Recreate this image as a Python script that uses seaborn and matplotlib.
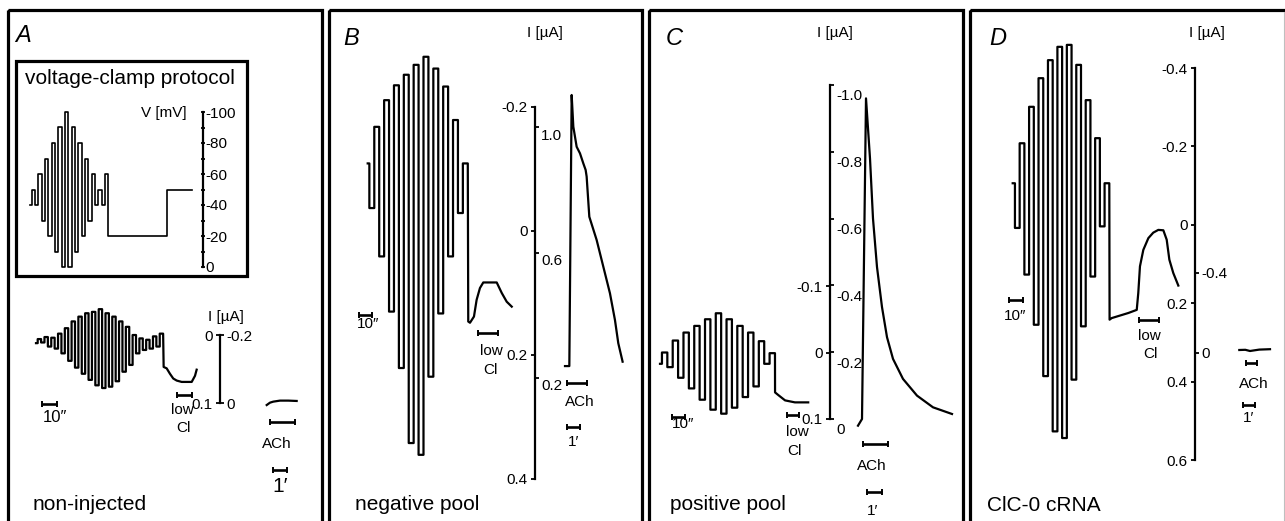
#!/usr/bin/env python
# -*- coding: utf-8 -*-

import numpy as np
import pandas as pd
import matplotlib
matplotlib.use('Agg')
import matplotlib.pyplot as plt
import matplotlib.transforms as mtransforms
from matplotlib.patches import Rectangle
import seaborn as sns

plt.rcParams['font.family'] = ['Liberation Sans', 'DejaVu Sans']

## ============================ values

# A inset: voltage-clamp protocol [mV], times [s]
prot_hold, prot_hold_dur, prot_half = -40, 1., 2.
prot_tops = [-50, -60, -70, -80, -90, -100, -90, -80, -70, -60, -50, -60]
prot_bottoms = [-40, -30, -20, -10, 0, 0, -10, -20, -30, -40, -40]
prot_steps = [-20, -50]
prot_steps_dur = [35., 15.]

# A: non-injected [uA]
a_start, a_start_dur, a_half = 0.012, 1.13, 2.26
a_tops = [0.006, 0.003, 0.004, -0.002, -0.010, -0.020, -0.027, -0.032, -0.034, -0.038,
          -0.032, -0.027, -0.020, -0.012, 0.000, 0.005, 0.007, 0.002, -0.002]
a_bottoms = [0.011, 0.017, 0.020, 0.027, 0.038, 0.048, 0.057, 0.066, 0.074, 0.078,
             0.076, 0.068, 0.054, 0.044, 0.027, 0.022, 0.020, 0.017]
a_tail_t = [85.1, 87.1, 89.3, 91.5, 93.8, 97.1, 103.8, 106.0, 107.1]
a_tail_i = [0.047, 0.049, 0.057, 0.064, 0.067, 0.069, 0.069, 0.060, 0.051]
a_ach_t = [0., 14.1, 28.3, 57.0, 92.6, 128.6]
a_ach_i = [0.006, -0.001, -0.004, -0.007, -0.007, -0.006]
a_lowcl = (94., 104.)
a_ach = (14., 121.)
a_sec10 = 4.
a_min1 = 27.

# B: negative pool
b_start, b_start_dur, b_half = -0.109, 1.25, 3.7
b_tops = [-0.168, -0.211, -0.235, -0.252, -0.268, -0.281, -0.262, -0.233, -0.179, -0.109]
b_bottoms = [-0.037, 0.041, 0.130, 0.221, 0.342, 0.361, 0.235, 0.133, 0.041, -0.029]
b_tail_t = [75.6, 76.9, 79.9, 81.9, 84.4, 86.9, 97.0, 100.8, 104.5, 108.3]
b_tail_i = [0.146, 0.148, 0.138, 0.111, 0.092, 0.083, 0.083, 0.100, 0.114, 0.122]
b_ach_t = [0., 19.5, 30., 37.5, 52.5, 67.5, 82.5, 93., 97.5, 109.5, 142.5, 172.5, 202.5, 225., 240., 259.5]
b_ach_i = [0.238, 0.238, 1.102, 1.001, 0.937, 0.916, 0.884, 0.863, 0.842, 0.714, 0.640, 0.555,
           0.470, 0.385, 0.311, 0.252]
b_lowcl = (82.9, 98.0)
b_ach = (9., 99.)
b_sec10 = -6.5
b_min1 = 9.

# C: positive pool
c_start, c_start_dur, c_half = 0.017, 1.5, 4.14
c_tops = [0.000, -0.018, -0.030, -0.040, -0.050, -0.059, -0.050, -0.040, -0.030, -0.017, 0.001]
c_bottoms = [0.022, 0.038, 0.054, 0.071, 0.086, 0.092, 0.083, 0.067, 0.051, 0.017]
c_tail_t = [88.5, 91., 93.6, 96.2, 103.8, 114.]
c_tail_i = [0.060, 0.064, 0.068, 0.072, 0.075, 0.075]
c_ach_t = [0., 16., 32., 48., 60., 76., 96., 116., 140., 180., 236., 300., 376.]
c_ach_i = [0.02, 0.0, -0.96, -0.78, -0.60, -0.455, -0.335, -0.245, -0.18, -0.12, -0.07, -0.035, -0.015]
c_lowcl = (97.7, 106.9)
c_ach = (20., 120.)
c_sec10 = 9.2
c_min1 = 36.

# D: ClC-0 cRNA
d_start, d_start_dur, d_half = -0.106, 1.6, 3.37
d_tops = [-0.208, -0.301, -0.374, -0.420, -0.454, -0.459, -0.408, -0.318, -0.221, -0.106]
d_bottoms = [0.008, 0.127, 0.255, 0.386, 0.527, 0.544, 0.395, 0.259, 0.132, 0.004]
d_tail_t = [69.2, 70.7, 82.6, 88.6, 89.7, 90.9, 93.3, 96.9, 100.4, 104., 107.6, 110., 111.9, 114.7, 118.3]
d_tail_i = [0.242, 0.238, 0.225, 0.217, 0.174, 0.106, 0.064, 0.034, 0.020, 0.013, 0.014, 0.038,
            0.089, 0.123, 0.155]
d_ach_t = [0., 30., 53.5, 100., 153.5]
d_ach_i = [-0.015, -0.016, -0.010, -0.017, -0.019]
d_lowcl = (90.2, 104.5)
d_ach = (33.5, 88.5)
d_sec10 = -2.6
d_min1 = 18.5

# scale bar ticks
v_ticks = [-100, -80, -60, -40, -20, 0]
v_minor = [-100, -90, -80, -70, -60, -50, -40, -30, -20, -10, 0]
a_left_ticks, a_right_ticks = [0, 0.1], [-0.2, 0]
b_left_ticks, b_right_ticks = [-0.2, 0, 0.2, 0.4], [1.0, 0.6, 0.2]
c_left_ticks, c_right_ticks = [-0.1, 0, 0.1], [-1.0, -0.8, -0.6, -0.4, -0.2, 0]
d_left_ticks, d_right_ticks = [-0.4, -0.2, 0, 0.2, 0.4, 0.6], [-0.4, 0]

## ============================ helpers

W, H = 1285, 521
fig = plt.figure(figsize=(W / 100., H / 100.), dpi=100)
bg = fig.add_axes([0, 0, 1, 1])
bg.set_xlim(0, W)
bg.set_ylim(H, 0)
bg.axis('off')

def lin(p, ref):
	(p1, v1), (p2, v2) = ref
	return v1 + (p - p1) * (v2 - v1) / (p2 - p1)

def place(ax, box, xref, yref):
	l, t, r, b = box
	ax.set_position([l / W, 1 - b / H, (r - l) / W, (b - t) / H])
	ax.set_xlim(lin(l, xref), lin(r, xref))
	ax.set_ylim(lin(b, yref), lin(t, yref))

def alternate(tops, bottoms):
	first, second = (tops, bottoms) if len(tops) > len(bottoms) else (bottoms, tops)
	out = []
	for i, v in enumerate(first):
		out.append(v)
		if i < len(second):
			out.append(second[i])
	return out

def step_frame(levels, durations, tail_t=(), tail_i=()):
	t, y, t0 = [], [], 0.
	for lv, d in zip(levels, durations):
		t += [t0, t0 + d]
		y += [lv, lv]
		t0 += d
	return pd.DataFrame({'t': t + list(tail_t), 'I': y + list(tail_i)})

def pulse_frame(start, start_dur, half, tops, bottoms, tail_t, tail_i):
	levels = [start] + alternate(tops, bottoms)
	durs = [start_dur] + [half] * (len(levels) - 1)
	return step_frame(levels, durs, tail_t, tail_i)

def trace_axes(box, xref, yref, df, bars, lw=1.6):
	ax = fig.add_axes([0, 0, 1, 1])
	sns.lineplot(data=df, x='t', y='I', ax=ax, color='k', linewidth=lw,
				 estimator=None, sort=False)
	for t0, t1, y in bars:
		ax.errorbar((t0 + t1) / 2., y, xerr=(t1 - t0) / 2., fmt='none', ecolor='k',
					elinewidth=1.9, capsize=2.2, capthick=1.4)
	ax.axis('off')
	place(ax, box, xref, yref)
	return ax

def fmt_ticks(vals, f):
	return ['0' if v == 0 else f % v for v in vals]

def scale_axes(x, top, bottom, yref, lticks, llabels, rref, rticks, rlabels,
			   ldir='out', rlen=3., rshift=0.):
	ax = fig.add_axes([0, 0, 1, 1])
	place(ax, (x - 0.1, top, x + 0.1, bottom), ((0, 0), (1, 1)), yref)
	ax.patch.set_visible(False)
	for side in ['top', 'right', 'bottom']:
		ax.spines[side].set_visible(False)
	ax.spines['left'].set_linewidth(1.6)
	ax.set_xticks([])
	ax.set_yticks(lticks, labels=llabels)
	ax.tick_params(axis='y', direction=ldir, length=3., width=1.3, pad=2., labelsize=11)
	ax2 = ax.twinx()
	place(ax2, (x - 0.1, top, x + 0.1, bottom), ((0, 0), (1, 1)), rref)
	ax2.patch.set_visible(False)
	for s in ax2.spines.values():
		s.set_visible(False)
	ax2.set_yticks(rticks, labels=rlabels)
	ax2.tick_params(axis='y', direction='out', length=rlen, width=1.3, pad=1.5, labelsize=11)
	if rshift:
		off = mtransforms.ScaledTranslation(0, -rshift / 100., fig.dpi_scale_trans)
		for lab in ax2.get_yticklabels():
			lab.set_transform(lab.get_transform() + off)
	return ax, ax2

def txt(x, y, s, size=11, ha='center', **kw):
	bg.text(x, y, s, fontsize=size, ha=ha, va='baseline', color='k', **kw)

## ============================ frames

for l, r in [(8, 321.5), (329, 642), (649, 963), (970, 1290)]:
	bg.add_patch(Rectangle((l, 10), r - l, 540, fill=False, lw=2.3, ec='k'))
bg.plot([1284, 1284], [12, H], color='0.75', lw=0.8)
bg.add_patch(Rectangle((16, 61), 231, 215, fill=False, lw=2.3, ec='k'))

## ============================ A, protocol inset

prot = step_frame([prot_hold] + alternate(prot_tops, prot_bottoms) + prot_steps,
				  [prot_hold_dur] + [prot_half] * 23 + prot_steps_dur)
trace_axes((18, 63, 245, 274), ((30, 0), (196.7, 100)), ((112, -100), (267, 0)), prot, [], lw=1.2)
scale_axes(203, 112, 267, ((112, -100), (267, 0)), v_minor, [''] * len(v_minor),
		   ((112, -100), (267, 0)), v_ticks, fmt_ticks(v_ticks, '%d'), ldir='inout', rlen=0.)
txt(25, 84, 'voltage-clamp protocol', size=15, ha='left')
txt(187, 116.5, 'V [mV]', ha='right')

## ============================ A, non-injected

a_y = ((335, 0.0), (403, 0.1))
a_ry = ((335, -0.2), (403, 0.0))
a_df = pulse_frame(a_start, a_start_dur, a_half, a_tops, a_bottoms, a_tail_t, a_tail_i)
trace_axes((10, 280, 320, 521), ((36, 0), (186, 100)), a_y, a_df,
		   [(a_sec10, a_sec10 + 10., 0.1015), (a_lowcl[0], a_lowcl[1], 0.088)])
trace_axes((10, 280, 320, 521), ((266.7, 0), (290.0, 100)), a_ry,
		   pd.DataFrame({'t': a_ach_t, 'I': a_ach_i}),
		   [(a_ach[0], a_ach[1], 0.055), (a_min1, a_min1 + 60., 0.197)])
scale_axes(220, 335, 403, a_y, a_left_ticks, fmt_ticks(a_left_ticks, '%.1f'),
		   a_ry, a_right_ticks, fmt_ticks(a_right_ticks, '%.1f'))
txt(226, 321.5, 'I [µA]')
txt(43, 422.5, '10″', size=12, ha='left')
txt(182, 414, 'low')
txt(183, 432.5, 'Cl')
txt(277, 447.5, 'ACh')
txt(280, 491.5, '1′', size=15)
txt(15, 42, 'A', size=17, ha='left', style='italic')
txt(33, 510, 'non-injected', size=15, ha='left')

## ============================ B, negative pool

b_y = ((107, -0.2), (479, 0.4))
b_ry = ((127, 1.0), (378, 0.2))
b_df = pulse_frame(b_start, b_start_dur, b_half, b_tops, b_bottoms, b_tail_t, b_tail_i)
trace_axes((331, 12, 640, 521), ((367.7, 0), (500.7, 100)), b_y, b_df,
		   [(b_sec10, b_sec10 + 10., 0.135), (b_lowcl[0], b_lowcl[1], 0.165)])
trace_axes((331, 12, 640, 521), ((565, 0), (587.2, 100)), b_ry,
		   pd.DataFrame({'t': b_ach_t, 'I': b_ach_i}),
		   [(b_ach[0], b_ach[1], 0.184), (b_min1, b_min1 + 60., 0.044)])
scale_axes(535, 107, 479, b_y, b_left_ticks, fmt_ticks(b_left_ticks, '%.1f'),
		   b_ry, b_right_ticks, fmt_ticks(b_right_ticks, '%.1f'), rshift=7.)
txt(545, 37, 'I [µA]')
txt(356.5, 328.5, '10″', ha='left')
txt(491, 355, 'low')
txt(490, 373.5, 'Cl')
txt(580, 406.5, 'ACh')
txt(574, 446.5, '1′')
txt(343, 45, 'B', size=17, ha='left', style='italic')
txt(355, 510, 'negative pool', size=15, ha='left')

## ============================ C, positive pool

c_y = ((286, -0.1), (419, 0.1))
c_ry = ((85, -1.0), (419, 0.0))
c_df = pulse_frame(c_start, c_start_dur, c_half, c_tops, c_bottoms, c_tail_t, c_tail_i)
trace_axes((651, 12, 961, 521), ((660, 0), (790, 100)), c_y, c_df,
		   [(c_sec10, c_sec10 + 10., 0.097), (c_lowcl[0], c_lowcl[1], 0.094)])
trace_axes((651, 12, 961, 521), ((858, 0), (883, 100)), c_ry,
		   pd.DataFrame({'t': c_ach_t, 'I': c_ach_i}),
		   [(c_ach[0], c_ach[1], 0.075), (c_min1, c_min1 + 60., 0.219)])
scale_axes(830, 85, 419, c_y, c_left_ticks, fmt_ticks(c_left_ticks, '%.1f'),
		   c_ry, c_right_ticks, fmt_ticks(c_right_ticks, '%.1f'), rshift=10.)
txt(835, 37, 'I [µA]')
txt(672, 428.5, '10″', ha='left')
txt(797, 436.5, 'low')
txt(794, 455, 'Cl')
txt(872, 469.5, 'ACh')
txt(873, 515, '1′')
txt(666, 45, 'C', size=17, ha='left', style='italic')
txt(670, 510, 'positive pool', size=15, ha='left')

## ============================ D, ClC-0 cRNA

d_y = ((68, -0.4), (460, 0.6))
d_ry = ((273, -0.4), (353, 0.0))
d_df = pulse_frame(d_start, d_start_dur, d_half, d_tops, d_bottoms, d_tail_t, d_tail_i)
trace_axes((972, 12, 1279, 521), ((1012.7, 0), (1152.7, 100)), d_y, d_df,
		   [(d_sec10, d_sec10 + 10., 0.191), (d_lowcl[0], d_lowcl[1], 0.242)])
trace_axes((972, 12, 1279, 521), ((1239.3, 0), (1259.3, 100)), d_ry,
		   pd.DataFrame({'t': d_ach_t, 'I': d_ach_i}),
		   [(d_ach[0], d_ach[1], 0.05), (d_min1, d_min1 + 60., 0.26)])
scale_axes(1195, 68, 460, d_y, d_left_ticks, fmt_ticks(d_left_ticks, '%.1f'),
		   d_ry, d_right_ticks, fmt_ticks(d_right_ticks, '%.1f'))
txt(1207, 37, 'I [µA]')
txt(1003.5, 319.5, '10″', ha='left')
txt(1149, 339.5, 'low')
txt(1150, 357.5, 'Cl')
txt(1254, 387.5, 'ACh')
txt(1249, 422.5, '1′')
txt(989, 45, 'D', size=17, ha='left', style='italic')
txt(987, 511, 'ClC-0 cRNA', size=15, ha='left')

fig.savefig('out.png', dpi=100)
